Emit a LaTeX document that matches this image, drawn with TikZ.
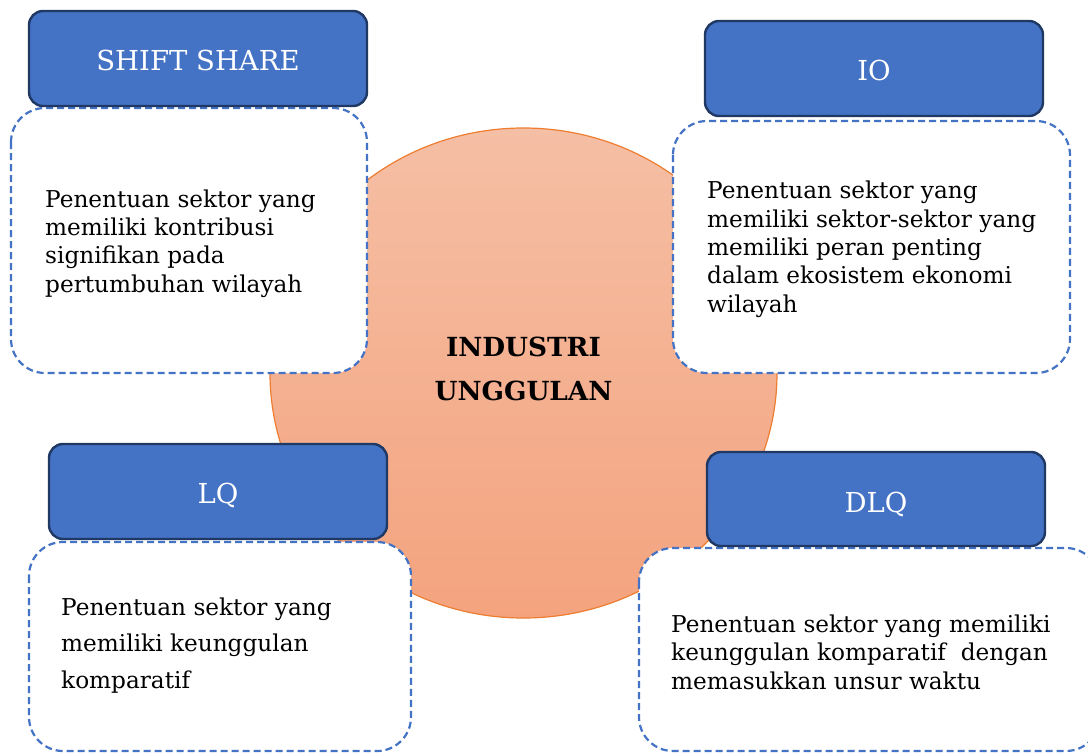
\documentclass[tikz,border=0pt]{standalone}
\usepackage{fontspec}
\setmainfont{DejaVu Serif}
\definecolor{boxblue}{HTML}{4472C4}
\definecolor{boxedge}{HTML}{1F3864}
\definecolor{ringorange}{HTML}{ED7D31}
\definecolor{peachtop}{HTML}{F5BFA5}
\definecolor{peachbot}{HTML}{F4A37E}
\begin{document}
\begin{tikzpicture}[x=1pt,y=-1pt,
  titlebox/.style={draw=boxedge, line width=2.4pt, fill=boxblue, rounded corners=14pt},
  descbox/.style={draw=boxblue, line width=2.2pt, fill=white, dash pattern=on 7pt off 4pt, rounded corners=34pt},
  titletext/.style={text=white, font=\fontsize{27.5}{33}\selectfont, anchor=base, inner sep=0pt},
  desctext/.style={anchor=base west, align=left, inner sep=0pt, font=\fontsize{23.2}{28.3}\selectfont},
  centertext/.style={align=center, inner sep=0pt, font=\bfseries\fontsize{26.3}{44}\selectfont}]
\useasboundingbox (0,0) rectangle (1088,753);
\path[fill=white] (0,0) rectangle (1088,753);
% central circle
\path[top color=peachtop, bottom color=peachbot] (523.5,373) ellipse [x radius=253.5, y radius=245];
\draw[ringorange, line width=1.2pt] (523.5,373) ellipse [x radius=253.5, y radius=245];
\node[centertext, anchor=base] (center) at (523.5,400) {INDUSTRI\\UNGGULAN};
% description boxes
\draw[descbox] (11,108) rectangle (367,373);
\draw[descbox] (673,121) rectangle (1070,373);
\draw[descbox] (29,542) rectangle (411,751);
\draw[descbox] (639,548) rectangle (1100,751);
% title boxes
\draw[titlebox] (29,11) rectangle (367,106);
\draw[titlebox] (705,21) rectangle (1043,116);
\draw[titlebox] (49,444) rectangle (387,539);
\draw[titlebox] (707,452) rectangle (1045,546);
\node[titletext] (ss) at (198,70) {SHIFT SHARE};
\node[titletext] (io) at (874,80) {IO};
\node[titletext] (lq) at (218,503) {LQ};
\node[titletext] (dlq) at (876,512) {DLQ};
% descriptions (anchored at the baseline of the last line)
\node[desctext] (ssd) at (45,292) {Penentuan sektor yang\\memiliki kontribusi\\signifikan pada\\pertumbuhan wilayah};
\node[desctext] (iod) at (707,312) {Penentuan sektor yang\\memiliki sektor-sektor yang\\memiliki peran penting\\dalam ekosistem ekonomi\\wilayah};
\node[desctext, font=\fontsize{23.2}{36.5}\selectfont] (lqd) at (61,688) {Penentuan sektor yang\\memiliki keunggulan\\komparatif};
\node[desctext] (dlqd) at (671,689) {Penentuan sektor yang memiliki\\keunggulan komparatif\ \ dengan\\memasukkan unsur waktu};
\end{tikzpicture}
\end{document}
